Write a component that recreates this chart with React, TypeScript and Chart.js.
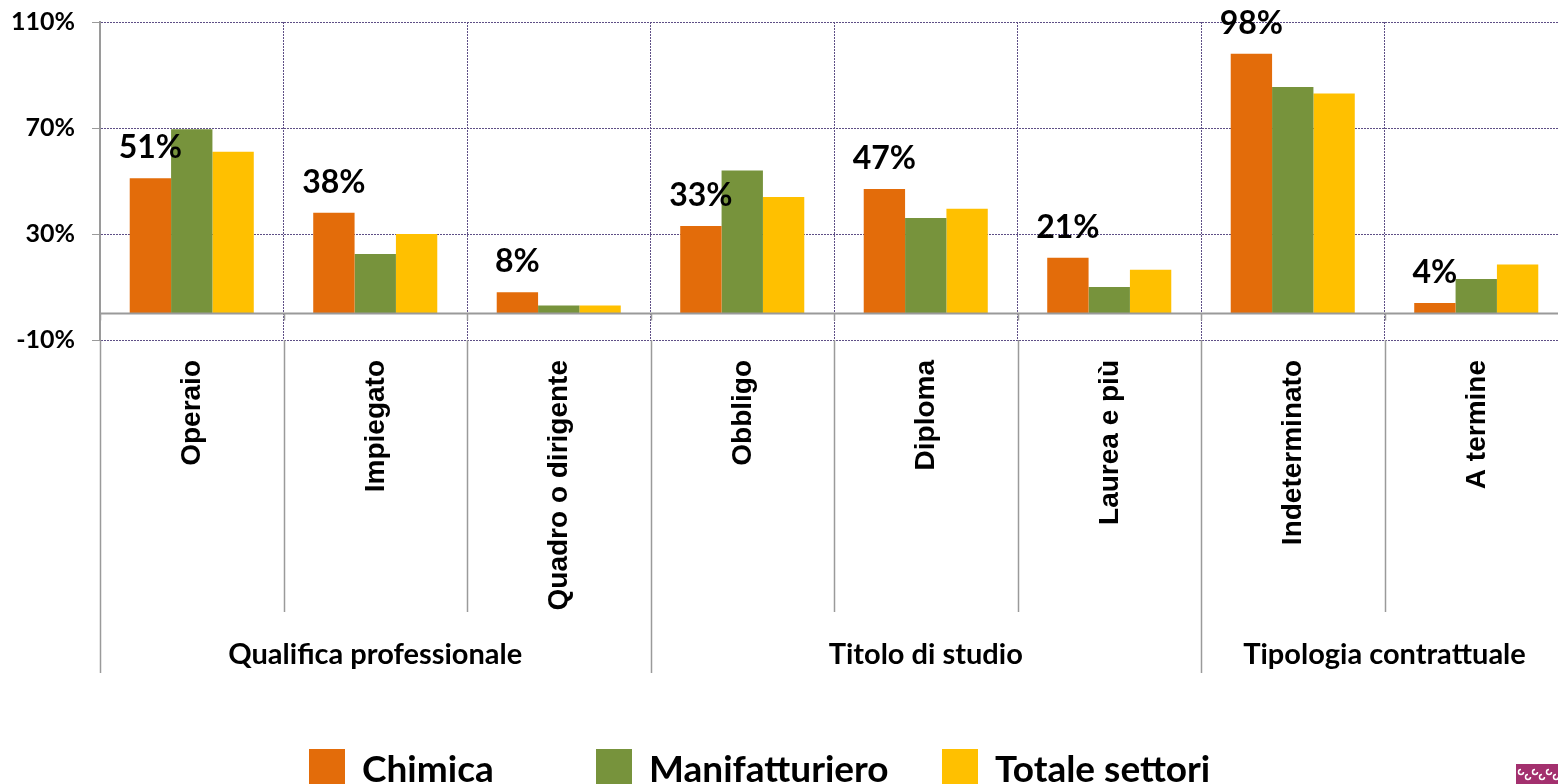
import React, { useEffect, useRef } from "react";
import { Chart, registerables } from "chart.js";

Chart.register(...registerables);

const categories = [
  "Operaio",
  "Impiegato",
  "Quadro o dirigente",
  "Obbligo",
  "Diploma",
  "Laurea e più",
  "Indeterminato",
  "A termine",
];
const groups = ["Qualifica professionale", "Titolo di studio", "Tipologia contrattuale"];
const groupSizes = [3, 3, 2];
const seriesNames = ["Chimica", "Manifatturiero", "Totale settori"];
const chimica = [51, 38, 8, 33, 47, 21, 98, 4];
const manifatturiero = [69.5, 22.5, 3, 54, 36, 10, 85.5, 13];
const totale = [61, 30, 3, 44, 39.5, 16.5, 83, 18.5];
const seriesColors = ["#E36C0A", "#77933C", "#FFC000"];
const yMin = -10;
const yMax = 110;
const yStep = 40;

const CALI = "Lato, 'Noto Sans', sans-serif";
const ARIAL = "'Liberation Sans', Arial, sans-serif";
const GRID = "#5e4f86";
const AXIS = "#9a9a9a";

const overlay = {
  id: "overlay",
  afterDraw(chart: any) {
    const { ctx, chartArea } = chart;
    const xs = chart.scales.x;
    const ys = chart.scales.y;
    const n = categories.length;
    const step = (xs.right - xs.left) / n;
    const y0 = ys.getPixelForValue(0);
    ctx.save();

    // zero line
    ctx.strokeStyle = AXIS;
    ctx.lineWidth = 2;
    ctx.beginPath();
    ctx.moveTo(chartArea.left, y0);
    ctx.lineTo(chartArea.right, y0);
    ctx.stroke();

    // group boundaries
    const groupBounds = new Set<number>();
    let acc = 0;
    groupBounds.add(0);
    groupSizes.forEach((s) => {
      acc += s;
      groupBounds.add(acc);
    });

    ctx.lineWidth = 1.5;
    for (let i = 0; i <= n; i++) {
      const bx = Math.round(xs.left + i * step) + 0.5;
      ctx.beginPath();
      ctx.moveTo(bx, y0);
      ctx.lineTo(bx, y0 + 7);
      ctx.stroke();
      const yEnd = groupBounds.has(i) ? 673 : 612;
      ctx.beginPath();
      ctx.moveTo(bx, chartArea.bottom);
      ctx.lineTo(bx, yEnd);
      ctx.stroke();
    }

    // rotated category labels
    ctx.fillStyle = "#000";
    ctx.font = `bold 28px ${ARIAL}`;
    categories.forEach((c, i) => {
      const cx = xs.getPixelForValue(i);
      ctx.save();
      ctx.translate(cx + 1, 360);
      ctx.rotate(-Math.PI / 2);
      ctx.textAlign = "right";
      ctx.textBaseline = "middle";
      ctx.fillText(c, 0, 0);
      ctx.restore();
    });

    // group labels
    ctx.font = `bold 29px ${CALI}`;
    ctx.textAlign = "center";
    ctx.textBaseline = "middle";
    let start = 0;
    groups.forEach((g, gi) => {
      const end = start + groupSizes[gi];
      const cx = xs.left + ((start + end) / 2) * step;
      ctx.fillText(g, cx, 655);
      start = end;
    });

    // data labels for the first series
    const meta = chart.getDatasetMeta(0);
    ctx.font = `bold 32px ${CALI}`;
    ctx.textAlign = "center";
    ctx.textBaseline = "alphabetic";
    meta.data.forEach((bar: any, i: number) => {
      const v = chart.data.datasets[0].data[i];
      ctx.fillText(`${Math.round(v)}%`, bar.x, bar.y - 20);
    });

    // legend
    const boxXs = [309, 596, 942];
    ctx.font = `bold 37px ${CALI}`;
    ctx.textAlign = "left";
    ctx.textBaseline = "alphabetic";
    chart.data.datasets.forEach((ds: any, i: number) => {
      const bx = boxXs[i];
      ctx.fillStyle = ds.backgroundColor;
      ctx.fillRect(bx, 749, 36, 38);
      ctx.fillStyle = "#000";
      ctx.fillText(ds.label, bx + 53, 782);
    });

    // small logo mark
    ctx.fillStyle = "#a3306e";
    ctx.fillRect(1516, 764, 42, 20);
    ctx.strokeStyle = "#fff";
    ctx.lineWidth = 1.5;
    for (let k = 0; k < 6; k++) {
      ctx.beginPath();
      ctx.arc(1521 + k * 7, 772 + (k % 2) * 5, 2.5, 0, Math.PI * 1.5);
      ctx.stroke();
    }

    ctx.restore();
  },
};

export default function App() {
  const ref = useRef<HTMLCanvasElement | null>(null);

  useEffect(() => {
    document.body.style.margin = "0";
    document.body.style.overflow = "hidden";
    const canvas = ref.current;
    if (!canvas) return;
    const chart = new Chart(canvas, {
      type: "bar",
      data: {
        labels: categories,
        datasets: [
          { label: seriesNames[0], data: chimica, backgroundColor: seriesColors[0] },
          { label: seriesNames[1], data: manifatturiero, backgroundColor: seriesColors[1] },
          { label: seriesNames[2], data: totale, backgroundColor: seriesColors[2] },
        ].map((d) => ({ ...d, borderWidth: 0, categoryPercentage: 0.676, barPercentage: 1 })),
      },
      options: {
        responsive: false,
        animation: false,
        devicePixelRatio: 1,
        layout: { padding: { top: 22, right: 2, bottom: 444, left: 0 } },
        plugins: {
          legend: { display: false },
          tooltip: { enabled: false },
        },
        scales: {
          x: {
            offset: true,
            ticks: { display: false },
            grid: { display: true, color: GRID, lineWidth: 1, drawTicks: false, offset: true },
            border: { display: false, dash: [2, 1] },
            afterFit: (s: any) => {
              s.height = 0;
            },
          },
          y: {
            min: yMin,
            max: yMax,
            ticks: {
              stepSize: yStep,
              padding: 17,
              color: "#000",
              font: { family: CALI, size: 25, weight: "bold" },
              callback: (v: any) => `${v}%`,
            },
            grid: { color: GRID, lineWidth: 1, tickColor: AXIS, tickLength: 8, drawTicks: true },
            border: { display: true, color: AXIS, width: 2, dash: [2, 1] },
            afterFit: (s: any) => {
              s.width = 100;
              s.paddingTop = 0;
              s.paddingBottom = 0;
            },
          },
        },
      },
      plugins: [overlay],
    });
    return () => chart.destroy();
  }, []);

  return (
    <div
      style={{
        position: "fixed",
        left: 0,
        top: 0,
        width: 1558,
        height: 784,
        overflow: "hidden",
        background: "#fff",
      }}
    >
      <canvas ref={ref} width={1570} height={784} style={{ width: 1570, height: 784, display: "block" }} />
    </div>
  );
}
